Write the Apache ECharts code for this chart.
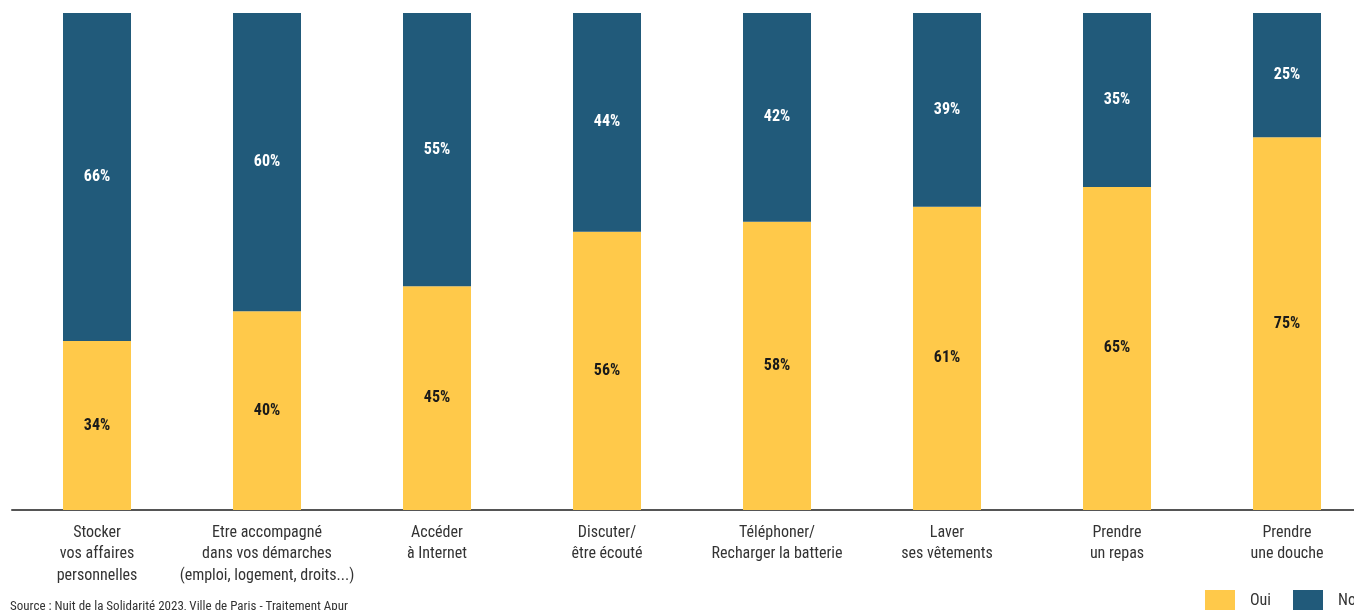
<!DOCTYPE html>
<html><head><meta charset="utf-8">
<script src="https://cdn.jsdelivr.net/npm/echarts@6/dist/echarts.min.js"></script>
<style>html,body{margin:0;padding:0;background:#fff}#c{width:1354px;height:610px}</style>
</head><body><div id="c"></div>
<script>
var categories = [
  "Stocker\nvos affaires\npersonnelles",
  "Etre accompagné\ndans vos démarches\n(emploi, logement, droits...)",
  "Accéder\nà Internet",
  "Discuter/\nêtre écouté",
  "Téléphoner/\nRecharger la batterie",
  "Laver\nses vêtements",
  "Prendre\nun repas",
  "Prendre\nune douche"
];
var ouiValues = [34, 40, 45, 56, 58, 61, 65, 75];
var nonValues = [66, 60, 55, 44, 42, 39, 35, 25];
var seriesNames = ["Oui", "Non"];
var sourceText = "Source : Nuit de la Solidarité 2023, Ville de Paris - Traitement Apur";

var FONT = "'Liberation Sans Narrow', 'Roboto Condensed', 'Arial Narrow', Roboto, sans-serif";
var legendBase = {
  top: 585, itemWidth: 30, itemHeight: 21, icon: 'rect', orient: 'horizontal',
  textStyle: {color: '#333', fontSize: 16, fontFamily: FONT, padding: [0, 0, 0, 10]}
};
var chart = echarts.init(document.getElementById('c'));
chart.setOption({
  animation: false,
  textStyle: {fontFamily: FONT},
  grid: {left: 12, right: -18, top: 13, bottom: 100, containLabel: false, outerBoundsMode: 'none'},
  xAxis: {
    type: 'category',
    data: categories,
    axisTick: {show: false},
    axisLine: {lineStyle: {color: '#555', width: 2}},
    axisLabel: {color: '#333', fontSize: 16, lineHeight: 21.5, margin: 12, interval: 0, fontFamily: FONT}
  },
  yAxis: {type: 'value', min: 0, max: 100, show: false, splitLine: {show: false}},
  legend: [
    Object.assign({}, legendBase, {left: 1200, data: [seriesNames[0]]}),
    Object.assign({}, legendBase, {left: 1288, data: [seriesNames[1]]})
  ],
  graphic: [{
    type: 'text', left: 10, top: 600,
    style: {text: sourceText, fill: '#333', fontSize: 13, fontFamily: FONT}
  }],
  series: [
    {
      name: seriesNames[0], type: 'bar', stack: 'total', data: ouiValues, barWidth: 68,
      itemStyle: {color: '#FFC94A'},
      label: {show: true, position: 'inside', formatter: '{c}%', color: '#1a1a1a', fontWeight: 'bold', fontSize: 16, fontFamily: FONT}
    },
    {
      name: seriesNames[1], type: 'bar', stack: 'total', data: nonValues, barWidth: 68,
      itemStyle: {color: '#215A7A'},
      label: {show: true, position: 'inside', formatter: '{c}%', color: '#fff', fontWeight: 'bold', fontSize: 16, fontFamily: FONT}
    }
  ]
});
</script></body></html>
